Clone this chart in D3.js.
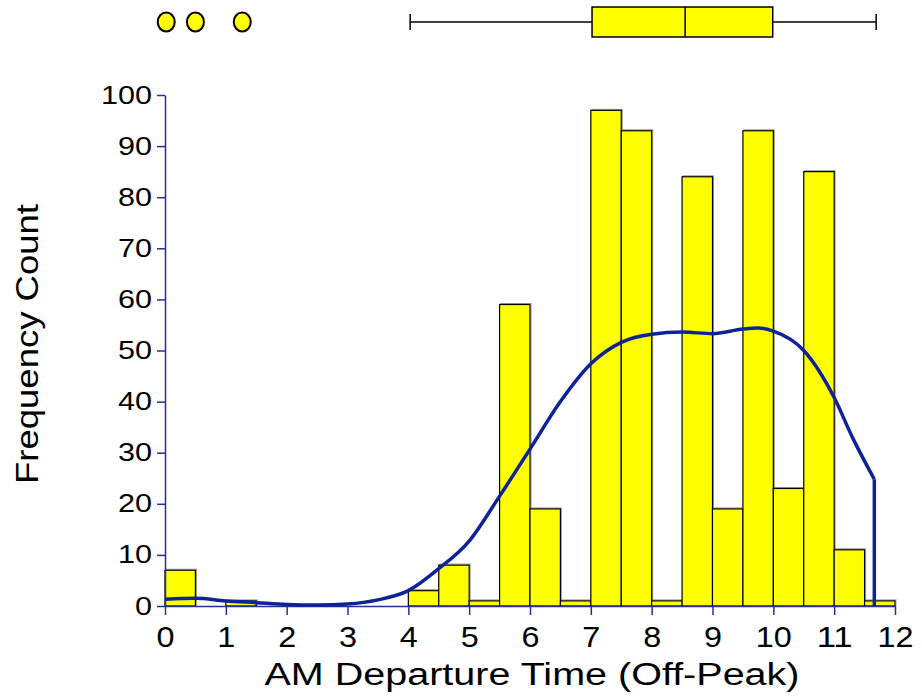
<!DOCTYPE html>
<html>
<head>
<meta charset="utf-8">
<script src="https://cdn.jsdelivr.net/npm/d3@7"></script>
<style>
  body { margin: 0; background: #fff; }
  svg { display: block; font-family: "Liberation Sans", Arial, sans-serif; }
</style>
</head>
<body>
<div id="chart"></div>
<script>
// histogram bins (width 0.5) and counts
const binStarts = [0, 0.5, 1, 1.5, 2, 2.5, 3, 3.5, 4, 4.5, 5, 5.5, 6, 6.5, 7, 7.5, 8, 8.5, 9, 9.5, 10, 10.5, 11, 11.5]
const counts = [7, 0, 1, 0, 0, 0, 0, 0, 3, 8, 1, 59, 19, 1, 97, 93, 1, 84, 19, 93, 23, 85, 11, 1]
const binWidth = 0.5

// density curve (scaled to counts)
const curveX = [0, 0.5, 1, 1.5, 2, 2.5, 3, 3.5, 4, 4.5, 5, 5.5, 6, 6.5, 7, 7.5, 8, 8.5, 9, 9.5, 9.75, 10, 10.5, 11, 11.3, 11.66]
const curveY = [1.3, 1.5, 1.0, 0.65, 0.3, 0.2, 0.4, 1.2, 3.0, 7.3, 12.7, 21.5, 30.7, 40, 47.4, 51.6, 53.2, 53.6, 53.3, 54.2, 54.4, 53.8, 50, 40.8, 33, 24.8]

// box plot: min, q1, median, q3, max and outliers
const boxStats = [4.03, 7.02, 8.55, 9.99, 11.69]
const outliers = [0.02, 0.5, 1.27]

const xTicks = [0, 1, 2, 3, 4, 5, 6, 7, 8, 9, 10, 11, 12]
const yTicks = [0, 10, 20, 30, 40, 50, 60, 70, 80, 90, 100]

const width = 922, height = 698
const axisColor = '#22319a'
const lineColor = '#0f2396'

const x = d3.scaleLinear().domain([0, 12]).range([165, 895])
const y = d3.scaleLinear().domain([0, 100]).range([606, 95])

const svg = d3.select('#chart').append('svg')
  .attr('width', width)
  .attr('height', height)

// bars
const bars = svg.append('g').attr('class', 'bars')
const barData = binStarts.map((b, i) => ({ x0: b, count: counts[i] }))

// soft gray shadow behind each bar
bars.selectAll('.shadow')
  .data(barData.filter(d => d.count > 0))
  .enter().append('rect')
  .attr('class', 'shadow')
  .attr('x', d => x(d.x0) + 1)
  .attr('y', d => y(d.count) - 1)
  .attr('width', d => x(d.x0 + binWidth) - x(d.x0))
  .attr('height', d => y(0) - y(d.count))
  .attr('fill', 'none')
  .attr('stroke', '#9a9a9a')
  .attr('stroke-width', 1)

bars.selectAll('.bar')
  .data(barData.filter(d => d.count > 0))
  .enter().append('rect')
  .attr('class', 'bar')
  .attr('x', d => x(d.x0))
  .attr('y', d => y(d.count))
  .attr('width', d => x(d.x0 + binWidth) - x(d.x0))
  .attr('height', d => y(0) - y(d.count))
  .attr('fill', '#ffff00')
  .attr('stroke', '#000')
  .attr('stroke-width', 1.2)

// axes (source font is wider than Liberation, so digits get stretched)
const xAxis = svg.append('g')
  .attr('transform', 'translate(0,' + y(0) + ')')
  .call(d3.axisBottom(x).tickValues(xTicks).tickSize(9).tickPadding(11).tickSizeOuter(0))
xAxis.select('.domain').attr('stroke', axisColor).attr('stroke-width', 1.5)
xAxis.selectAll('.tick line').attr('stroke', axisColor).attr('stroke-width', 1.5)
xAxis.selectAll('.tick text')
  .attr('fill', '#000')
  .style('font-size', '30px')
  .attr('textLength', d => String(d).length * 18)
  .attr('lengthAdjust', 'spacingAndGlyphs')

const yAxis = svg.append('g')
  .attr('transform', 'translate(' + x(0) + ',0)')
  .call(d3.axisLeft(y).tickValues(yTicks).tickSize(8).tickPadding(5).tickSizeOuter(0))
yAxis.select('.domain').attr('stroke', axisColor).attr('stroke-width', 1.5)
yAxis.selectAll('.tick line').attr('stroke', axisColor).attr('stroke-width', 1.5)
yAxis.selectAll('.tick text')
  .attr('fill', '#000')
  .style('font-size', '25px')
  .attr('textLength', d => String(d).length * 17)
  .attr('lengthAdjust', 'spacingAndGlyphs')

// density line, with a drop to zero at the end
const pts = curveX.map((v, i) => [v, curveY[i]])
const densityLine = d3.line()
  .x(d => x(d[0]))
  .y(d => y(d[1]))
  .curve(d3.curveMonotoneX)

svg.append('path')
  .datum(pts)
  .attr('d', densityLine)
  .attr('fill', 'none')
  .attr('stroke', lineColor)
  .attr('stroke-width', 3.5)

const last = pts[pts.length - 1]
svg.append('line')
  .attr('x1', x(last[0])).attr('x2', x(last[0]))
  .attr('y1', y(last[1])).attr('y2', y(0))
  .attr('stroke', lineColor)
  .attr('stroke-width', 3.5)

// box plot on top
const by = 22
const bp = svg.append('g').attr('class', 'boxplot')
bp.append('line')
  .attr('x1', x(boxStats[0])).attr('x2', x(boxStats[4]))
  .attr('y1', by).attr('y2', by)
  .attr('stroke', '#000').attr('stroke-width', 1.5)
bp.selectAll('.cap')
  .data([boxStats[0], boxStats[4]])
  .enter().append('line')
  .attr('x1', d => x(d)).attr('x2', d => x(d))
  .attr('y1', by - 8).attr('y2', by + 8)
  .attr('stroke', '#000').attr('stroke-width', 1.5)
bp.append('rect')
  .attr('x', x(boxStats[1]))
  .attr('y', 7)
  .attr('width', x(boxStats[3]) - x(boxStats[1]))
  .attr('height', 30)
  .attr('fill', '#ffff00')
  .attr('stroke', '#000')
  .attr('stroke-width', 1.5)
bp.append('line')
  .attr('x1', x(boxStats[2])).attr('x2', x(boxStats[2]))
  .attr('y1', 7).attr('y2', 37)
  .attr('stroke', '#000').attr('stroke-width', 1.5)
bp.selectAll('.outlier')
  .data(outliers)
  .enter().append('ellipse')
  .attr('cx', d => x(d))
  .attr('cy', by)
  .attr('rx', 8.5)
  .attr('ry', 9.5)
  .attr('fill', '#ffff00')
  .attr('stroke', '#000')
  .attr('stroke-width', 2)

// axis titles
svg.append('text')
  .attr('x', 532)
  .attr('y', 685)
  .attr('text-anchor', 'middle')
  .style('font-size', '31px')
  .attr('textLength', 535)
  .attr('lengthAdjust', 'spacingAndGlyphs')
  .text('AM Departure Time (Off-Peak)')

svg.append('text')
  .attr('transform', 'translate(38,344) rotate(-90)')
  .attr('text-anchor', 'middle')
  .style('font-size', '31px')
  .attr('textLength', 280)
  .attr('lengthAdjust', 'spacingAndGlyphs')
  .text('Frequency Count')
</script>
</body>
</html>
